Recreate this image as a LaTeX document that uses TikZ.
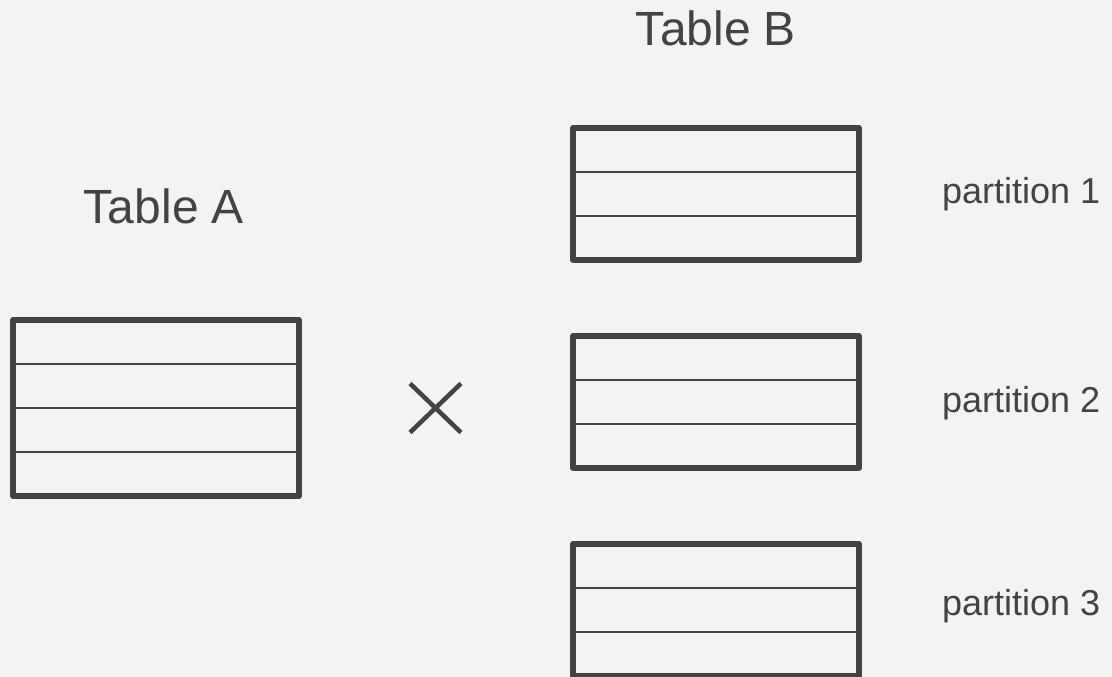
\documentclass[tikz,border=0pt]{standalone}
\usepackage{fontspec}
\setmainfont{Liberation Sans}
\usetikzlibrary{calc}
\definecolor{bg}{HTML}{F3F3F3}
\definecolor{ink}{HTML}{434343}
\tikzset{
  tblbox/.style={draw=ink, line width=5.5pt, line join=round, rectangle, outer sep=0pt, inner sep=0pt, minimum width=286pt},
  rowline/.style={draw=ink, line width=2pt},
  title/.style={text=ink, font=\fontsize{48}{56}\selectfont, inner sep=0pt, anchor=base},
  plabel/.style={text=ink, font=\fontsize{36}{42}\selectfont, inner sep=0pt, anchor=base west},
  timesline/.style={draw=ink, line width=4.5pt}
}
\begin{document}
\begin{tikzpicture}[x=1pt, y=-1pt]
\fill[bg] (0,0) rectangle (1112,677);
\useasboundingbox (0,0) rectangle (1112,677);

% Titles
\node[title] (tA) at (164,223) {Table A};
\node[title] (tB) at (716,46) {Table B};

% Table A rows
\draw[rowline] (13,364) -- (299,364);
\draw[rowline] (13,408) -- (299,408);
\draw[rowline] (13,452) -- (299,452);
\node[tblbox, minimum height=176pt] (A) at (156,408) {};

% Table B partition 1
\draw[rowline] (573,172) -- (859,172);
\draw[rowline] (573,216) -- (859,216);
\node[tblbox, minimum height=132pt] (B1) at (716,194) {};

% Table B partition 2
\draw[rowline] (573,380) -- (859,380);
\draw[rowline] (573,424) -- (859,424);
\node[tblbox, minimum height=132pt] (B2) at (716,402) {};

% Table B partition 3
\draw[rowline] (573,588) -- (859,588);
\draw[rowline] (573,632) -- (859,632);
\node[tblbox, minimum height=132pt] (B3) at (716,610) {};

% Partition labels
\node[plabel] (p1) at (942,203) {partition 1};
\node[plabel] (p2) at (942,412) {partition 2};
\node[plabel] (p3) at (942,615) {partition 3};

% Times sign
\coordinate (X) at (435.5,408);
\draw[timesline] ($(X)+(-25.5,-24.5)$) -- ($(X)+(25.5,24.5)$);
\draw[timesline] ($(X)+(-25.5,24.5)$) -- ($(X)+(25.5,-24.5)$);
\end{tikzpicture}
\end{document}
